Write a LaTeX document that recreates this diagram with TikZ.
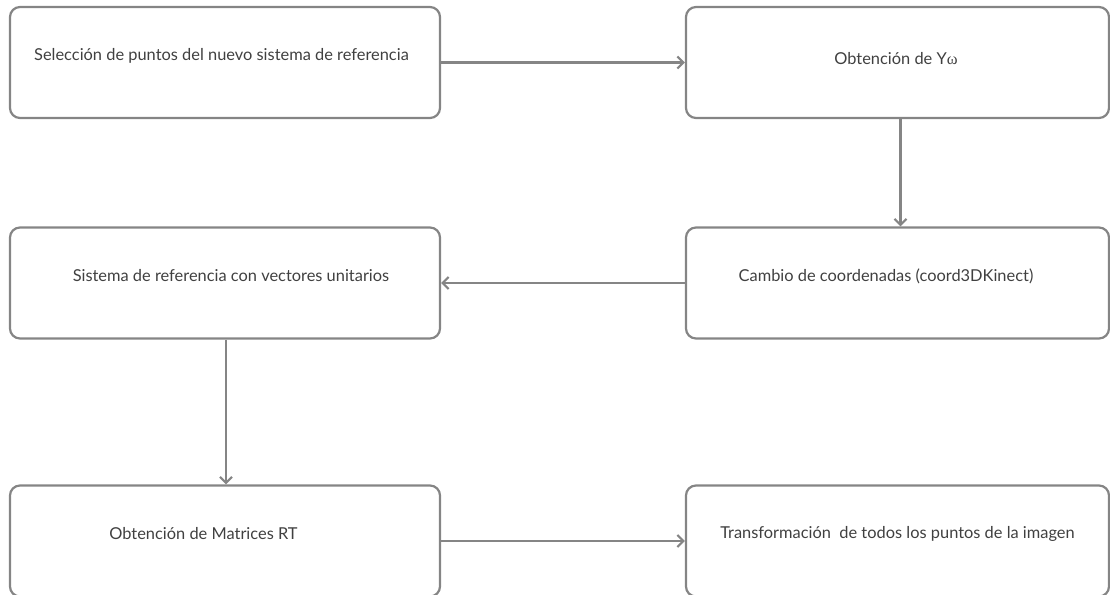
\documentclass[tikz,border=0pt]{standalone}
\usepackage{fontspec}
\setmainfont{Lato}
\newfontfamily\omegafont{Liberation Serif}
\usetikzlibrary{arrows.meta}

\definecolor{linegray}{HTML}{858585}
\definecolor{textgray}{HTML}{404040}

\begin{document}
\begin{tikzpicture}[x=1pt, y=-1pt,
		box/.style={draw=linegray, line width=2.2pt, rounded corners=10pt,
			minimum width=430pt, minimum height=111pt, inner sep=0pt},
		rbox/.style={box, minimum width=423pt},
		txt/.style={text=textgray, font=\fontsize{16.4}{19}\selectfont, inner sep=0pt},
		arr/.style={draw=linegray, line width=2.2pt, -{Straight Barb[length=6pt, width=12pt]}}]
		\useasboundingbox (0, 0) rectangle (1110, 594);
		\clip (0, 0) rectangle (1110, 594);
		
		% the six boxes
		\node[box] (sel) at (225, 62.5) {};
		\node[rbox] (yw) at (897.5, 62.5) {};
		\node[rbox] (cambio) at (897.5, 283) {};
		\node[box] (sist) at (225, 283) {};
		\node[box] (mat) at (225, 541) {};
		\node[rbox] (trans) at (897.5, 541) {};
		
		% texts, a bit above the middle of each box
		\node[txt] (tsel) at (221.5, 56) {Selección de puntos del nuevo sistema de referencia};
		\node[txt] (tyw) at (896, 59) {Obtención de Y{\omegafont ω}};
		\node[txt] (tcambio) at (886, 276) {Cambio de coordenadas (coord3DKinect)};
		\node[txt] (tsist) at (231, 276) {Sistema de referencia con vectores unitarios};
		\node[txt] (tmat) at (203.5, 534) {Obtención de Matrices RT};
		\node[txt] (ttrans) at (897.5, 534) {Transformación\ \ de todos los puntos de la imagen};
		
		% connectors
		\draw[arr] (sel) -- (yw);
		\draw[arr] ([xshift=3pt]yw.south) -- ([xshift=3pt]cambio.north);
		\draw[arr] (cambio) -- (sist);
		\draw[arr] ([xshift=1pt]sist.south) -- ([xshift=1pt]mat.north);
		\draw[arr] (mat) -- (trans);
	\end{tikzpicture}
\end{document}
